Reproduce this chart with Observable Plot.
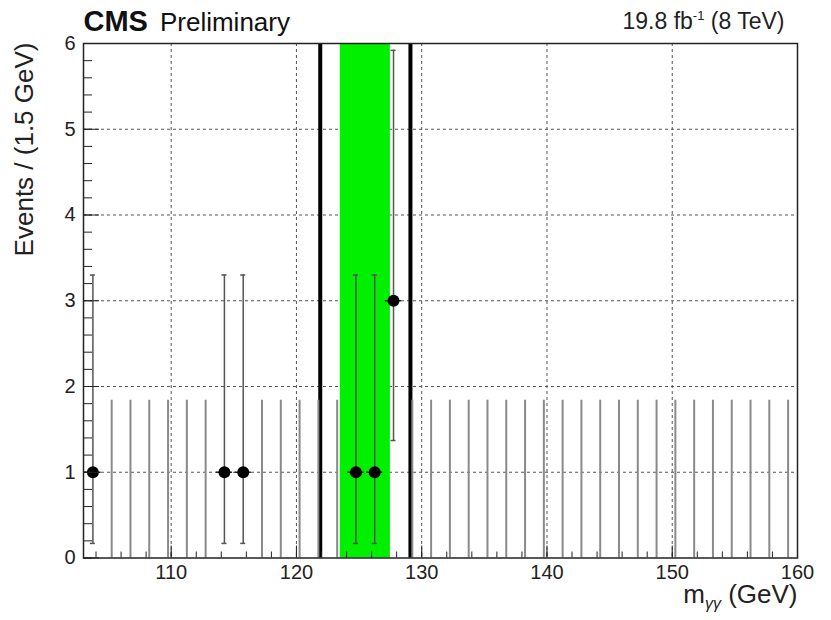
<!DOCTYPE html>
<html>
<head>
<meta charset="utf-8">
<script src="https://cdn.jsdelivr.net/npm/d3@7"></script>
<script src="https://cdn.jsdelivr.net/npm/@observablehq/plot@0.6"></script>
<style>
  body { margin: 0; background: #fff; }
</style>
</head>
<body>
<div id="chart"></div>
<script>
// Diphoton invariant mass spectrum: event counts in 1.5 GeV bins, 103–160 GeV
const binStart = 103;
const binWidth = 1.5;
const counts = [
  1, 0, 0, 0, 0, 0, 0, 1, 1, 0,
  0, 0, 0, 0, 1, 1, 3, 0, 0, 0,
  0, 0, 0, 0, 0, 0, 0, 0, 0, 0,
  0, 0, 0, 0, 0, 0, 0, 0
];

// 68% Poisson intervals for the observed counts
const poissonN = [0, 1, 3];
const poissonLow = [0, 0.17, 1.37];
const poissonHigh = [1.84, 3.30, 5.92];

// Signal region (green) and the surrounding window edges (black lines)
const signalBand = [123.5, 127.5];
const windowEdges = [121.9, 129.1];

// Axis ticks
const xTicks = [110, 120, 130, 140, 150, 160];
const xMinor = d3.range(104, 160, 2);
const yTicks = [0, 1, 2, 3, 4, 5, 6];
const yMinor = d3.range(0, 6.001, 0.2);

const bins = counts.map((n, i) => {
  const k = poissonN.indexOf(n);
  return {
    center: binStart + binWidth * (i + 0.5),
    n,
    lo: poissonLow[k],
    hi: poissonHigh[k]
  };
});
const emptyBins = bins.filter(d => d.n === 0);
const filledBins = bins.filter(d => d.n > 0);

const FONT = "'Liberation Sans', Arial, Helvetica, sans-serif";
const W = 831, H = 620;
const mL = 83, mR = 34, mT = 43, mB = 62.5;
const frameW = W - mL - mR;
const frameH = H - mT - mB;

const chart = Plot.plot({
  width: W,
  height: H,
  marginLeft: mL,
  marginRight: mR,
  marginTop: mT,
  marginBottom: mB,
  style: { fontFamily: FONT, fontSize: "19px", color: "#222", background: "#fff" },
  x: { domain: [103, 160], label: null },
  y: { domain: [0, 6], label: null },
  marks: [
    // dotted grid
    Plot.gridX(xTicks.slice(0, -1), { stroke: "#555", strokeOpacity: 1, strokeWidth: 1, strokeDasharray: "3,3" }),
    Plot.gridY(yTicks.slice(1, -1), { stroke: "#555", strokeOpacity: 1, strokeWidth: 1, strokeDasharray: "3,3" }),
    // signal band and window edges
    Plot.rect([signalBand], { x1: d => d[0], x2: d => d[1], fill: "#00f000" }),
    Plot.ruleX(windowEdges, { x: d => d, stroke: "#000", strokeWidth: 4 }),
    // error bars of empty bins
    Plot.ruleX(emptyBins, { x: "center", y1: "lo", y2: "hi", stroke: "#8a8a8a", strokeWidth: 2 }),
    // error bars of filled bins with end caps
    Plot.ruleX(filledBins, { x: "center", y1: "lo", y2: "hi", stroke: "#555", strokeWidth: 1.5 }),
    Plot.ruleY(filledBins, { y: "lo", x1: d => d.center - 0.2, x2: d => d.center + 0.2, stroke: "#555", strokeWidth: 1.5 }),
    Plot.ruleY(filledBins, { y: "hi", x1: d => d.center - 0.2, x2: d => d.center + 0.2, stroke: "#555", strokeWidth: 1.5 }),
    Plot.ruleY(filledBins, { y: "n", x1: d => d.center - 0.65, x2: d => d.center + 0.65, stroke: "#222", strokeWidth: 1.5 }),
    Plot.dot(filledBins, { x: "center", y: "n", r: 6, fill: "#000", stroke: "none" }),
    // inward tick marks
    Plot.tickX(xMinor, { x: d => d, insetTop: frameH - 6, stroke: "#222", strokeWidth: 1 }),
    Plot.tickX(xTicks, { x: d => d, insetTop: frameH - 12, stroke: "#222", strokeWidth: 1 }),
    Plot.tickY(yMinor, { y: d => d, insetRight: frameW - 9, stroke: "#222", strokeWidth: 1 }),
    Plot.tickY(yTicks, { y: d => d, insetRight: frameW - 16, stroke: "#222", strokeWidth: 1 }),
    Plot.frame({ stroke: "#222", strokeWidth: 1.5 }),
    // tick labels
    Plot.axisX(xTicks, { tickSize: 0, tickPadding: 7, fontSize: 20, fill: "#222", tickFormat: "d" }),
    Plot.axisY(yTicks, { tickSize: 0, tickPadding: 8, fontSize: 20, fill: "#222", tickFormat: "d" }),
    // titles
    Plot.text(["CMS Preliminary"], { text: d => d, frameAnchor: "top-left", dy: -13, textAnchor: "start", lineAnchor: "bottom", fontSize: 26, fill: "#111" }),
    Plot.text(["19.8 fb-1 (8 TeV)"], { text: d => d, frameAnchor: "top-right", dx: -13, dy: -15, textAnchor: "end", lineAnchor: "bottom", fontSize: 23, fill: "#222" }),
    Plot.text(["m_γγ (GeV)"], { text: d => d, frameAnchor: "bottom-right", dy: 45, textAnchor: "end", lineAnchor: "bottom", fontSize: 26, fill: "#222" }),
    Plot.text(["Events / (1.5 GeV)"], { text: d => d, frameAnchor: "top-left", dx: -51, dy: -1, rotate: -90, textAnchor: "end", lineAnchor: "bottom", fontSize: 26, fill: "#222" })
  ]
});

document.getElementById("chart").appendChild(chart);

// Rich text: bold experiment name, superscript and subscript
const svg = d3.select(chart);
svg.selectAll("text").each(function () {
  const t = d3.select(this);
  const s = this.textContent;
  if (s === "CMS Preliminary") {
    t.text(null);
    t.append("tspan").attr("font-weight", "bold").attr("font-size", 29).text("CMS");
    t.append("tspan").attr("dx", 12).text("Preliminary");
  } else if (s === "19.8 fb-1 (8 TeV)") {
    t.text(null);
    t.append("tspan").text("19.8 fb");
    t.append("tspan").attr("font-size", 13).attr("dy", -9).text("-1");
    t.append("tspan").attr("dy", 9).text(" (8 TeV)");
  } else if (s === "m_γγ (GeV)") {
    t.text(null);
    t.append("tspan").text("m");
    t.append("tspan").attr("font-size", 16).attr("font-style", "italic").attr("dy", 6).text("γγ");
    t.append("tspan").attr("dy", -6).text(" (GeV)");
  }
});
</script>
</body>
</html>
